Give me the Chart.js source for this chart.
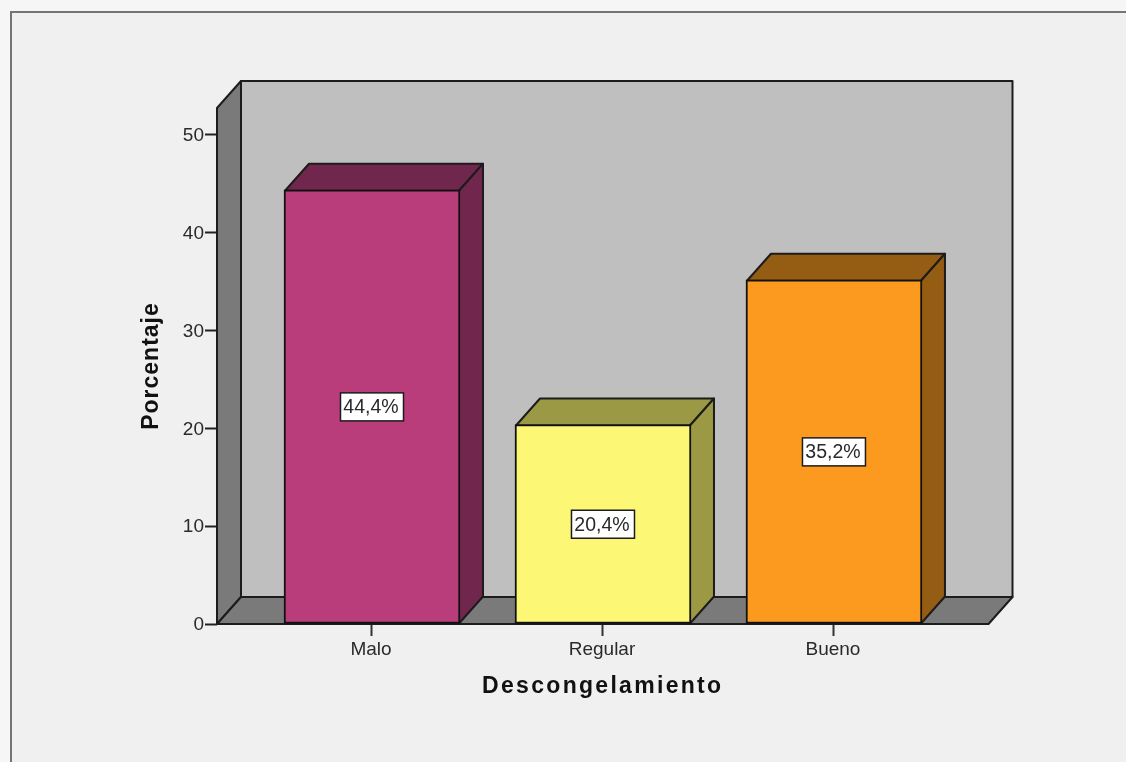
<!DOCTYPE html>
<html>
<head>
<meta charset="utf-8">
<title>Descongelamiento</title>
<script src="https://cdn.jsdelivr.net/npm/chart.js@4"></script>
<style>
  html, body { margin: 0; padding: 0; background: #f6f6f6; overflow: hidden; }
  canvas { display: block; }
</style>
</head>
<body>
<canvas id="barChart" width="1126" height="762"></canvas>
<script>
// Data
const categories = ["Malo", "Regular", "Bueno"];
const percentages = [44.4, 20.4, 35.2];
const yTickValues = [0, 10, 20, 30, 40, 50];
const xTitle = "Descongelamiento";
const yTitle = "Porcentaje";

// Colours
const faceColors = ["#b93d7b", "#fcf774", "#fb9a1f"];
const sideColors = ["#70264d", "#9c9945", "#955c13"];
const lineColor = "#1c1c1c";

// 3D depth of the walls and bars
const depthX = 24;
const depthY = -27;

function polygon(ctx, points, fill) {
    ctx.beginPath();
    points.forEach((p, i) => i ? ctx.lineTo(p[0], p[1]) : ctx.moveTo(p[0], p[1]));
    ctx.closePath();
    ctx.fillStyle = fill;
    ctx.fill();
    ctx.stroke();
}

// Outer frame of the viewer pane
const framePlugin = {
    id: "frame",
    beforeDraw(chart) {
        const ctx = chart.ctx;
        ctx.save();
        ctx.fillStyle = "#f0f0f0";
        ctx.fillRect(11, 12, chart.width, chart.height);
        ctx.strokeStyle = "#757575";
        ctx.lineWidth = 2;
        ctx.strokeRect(11, 12, chart.width + 20, chart.height + 20);
        ctx.restore();
    }
};

// Back wall, side wall, floor and the top and side of every bar
const depthPlugin = {
    id: "depth",
    beforeDatasetsDraw(chart) {
        const ctx = chart.ctx;
        const { left, right, top, bottom } = chart.chartArea;
        ctx.save();
        ctx.strokeStyle = lineColor;
        ctx.lineWidth = 2;
        ctx.lineJoin = "round";

        polygon(ctx, [[left + depthX, top + depthY], [right + depthX, top + depthY],
                      [right + depthX, bottom + depthY], [left + depthX, bottom + depthY]], "#bfbfbf");
        polygon(ctx, [[left, top], [left + depthX, top + depthY],
                      [left + depthX, bottom + depthY], [left, bottom]], "#7a7a7a");
        polygon(ctx, [[left, bottom], [left + depthX, bottom + depthY],
                      [right + depthX, bottom + depthY], [right, bottom]], "#7a7a7a");

        chart.getDatasetMeta(0).data.forEach((bar, i) => {
            const half = bar.width / 2 - 1;
            const x0 = bar.x - half, x1 = bar.x + half;
            const yTop = bar.y + 1, yBase = bar.base;
            polygon(ctx, [[x0, yTop], [x0 + depthX, yTop + depthY],
                          [x1 + depthX, yTop + depthY], [x1, yTop]], sideColors[i]);
            polygon(ctx, [[x1, yTop], [x1 + depthX, yTop + depthY],
                          [x1 + depthX, yBase + depthY], [x1, yBase]], sideColors[i]);
        });
        ctx.restore();
    }
};

// Value boxes at half the bar height, and the two axis titles
const labelPlugin = {
    id: "labels",
    afterDraw(chart) {
        const ctx = chart.ctx;
        const yScale = chart.scales.y;
        const { left, right, top, bottom } = chart.chartArea;
        ctx.save();
        ctx.textAlign = "center";
        ctx.textBaseline = "middle";

        chart.getDatasetMeta(0).data.forEach((bar, i) => {
            const cy = yScale.getPixelForValue(percentages[i] / 2);
            ctx.fillStyle = "#ffffff";
            ctx.strokeStyle = lineColor;
            ctx.lineWidth = 1.5;
            ctx.fillRect(bar.x - 31.5, cy - 14, 63, 28);
            ctx.strokeRect(bar.x - 31.5, cy - 14, 63, 28);
            ctx.fillStyle = "#2a2a2a";
            ctx.font = "19.5px 'Liberation Sans'";
            ctx.fillText(percentages[i].toFixed(1).replace(".", ",") + "%", bar.x - 1, cy + 1);
        });

        ctx.fillStyle = "#111111";
        ctx.font = "bold 23px 'Liberation Sans'";
        ctx.letterSpacing = "2.3px";
        ctx.fillText(xTitle, (left + right) / 2, 687);

        ctx.letterSpacing = "1px";
        ctx.translate(152, (top + bottom) / 2);
        ctx.rotate(-Math.PI / 2);
        ctx.fillText(yTitle, 0, 0);
        ctx.restore();
    }
};

new Chart("barChart", {
    type: "bar",
    data: {
        datasets: [{
            label: "Porcentaje",
            data: percentages.map((v, i) => ({ x: i, y: v })),
            backgroundColor: faceColors,
            borderColor: "#111111",
            borderWidth: 2,
            borderSkipped: false,
            barThickness: 176
        }]
    },
    plugins: [framePlugin, depthPlugin, labelPlugin],
    options: {
        responsive: false,
        animation: false,
        layout: { padding: { top: 108, right: 137.5 } },
        plugins: { legend: { display: false }, tooltip: { enabled: false } },
        scales: {
            x: {
                type: "linear",
                offset: false,
                min: -0.671,
                max: 2.669,
                afterBuildTicks(scale) {
                    scale.ticks = categories.map((c, i) => ({ value: i }));
                },
                afterFit(scale) { scale.height = 138; },
                border: { display: false },
                grid: { offset: false, drawOnChartArea: false, tickLength: 12, tickColor: "#333333", tickWidth: 2 },
                ticks: {
                    padding: 2,
                    labelOffset: -1,
                    color: "#2a2a2a",
                    maxRotation: 0,
                    font: { family: "'Liberation Sans'", size: 19 },
                    callback: value => categories[value]
                }
            },
            y: {
                min: 0,
                max: 52.76,
                afterBuildTicks(scale) {
                    scale.ticks = yTickValues.map(v => ({ value: v }));
                },
                afterFit(scale) { scale.width = 217; },
                border: { display: false },
                grid: { drawOnChartArea: false, tickLength: 12, tickColor: "#222222", tickWidth: 2 },
                ticks: {
                    padding: 1,
                    labelOffset: 1,
                    color: "#2a2a2a",
                    font: { family: "'Liberation Sans'", size: 19 }
                }
            }
        }
    }
});
</script>
</body>
</html>
